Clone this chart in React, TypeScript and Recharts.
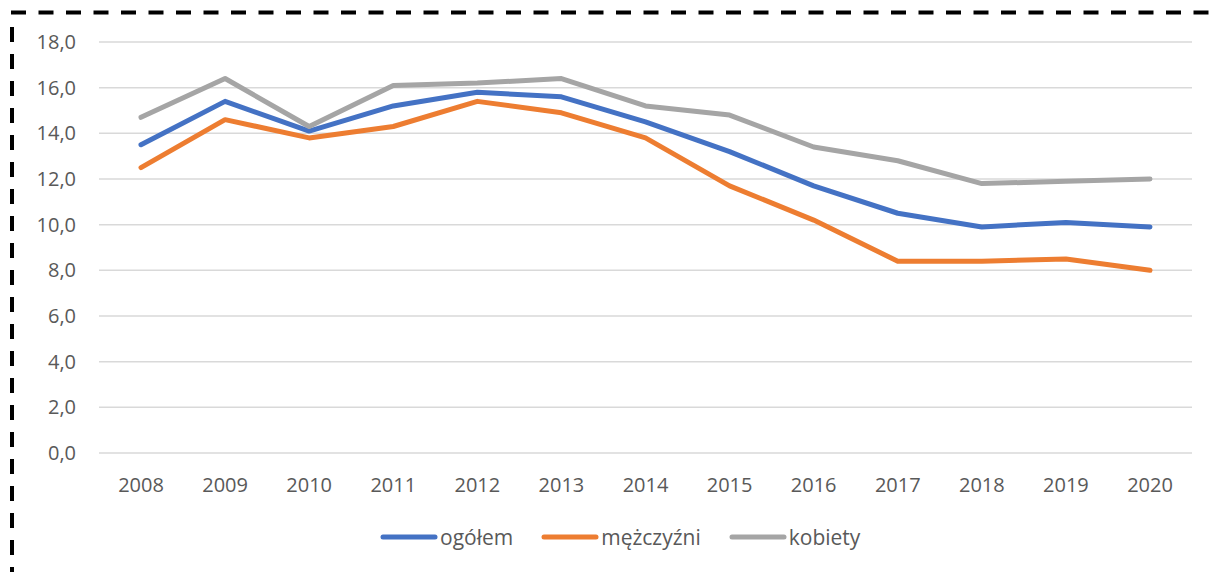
import React from "react";
import { LineChart, Line, XAxis, YAxis, CartesianGrid, Legend } from "recharts";

const years = ["2008", "2009", "2010", "2011", "2012", "2013", "2014", "2015", "2016", "2017", "2018", "2019", "2020"];
const ogolem = [13.5, 15.4, 14.1, 15.2, 15.8, 15.6, 14.5, 13.2, 11.7, 10.5, 9.9, 10.1, 9.9];
const mezczyzni = [12.5, 14.6, 13.8, 14.3, 15.4, 14.9, 13.8, 11.7, 10.2, 8.4, 8.4, 8.5, 8.0];
const kobiety = [14.7, 16.4, 14.3, 16.1, 16.2, 16.4, 15.2, 14.8, 13.4, 12.8, 11.8, 11.9, 12.0];
const yTicks = [0, 2, 4, 6, 8, 10, 12, 14, 16, 18];

const seriesNames = ["ogółem", "mężczyźni", "kobiety"];
const seriesColors = ["#4472C4", "#ED7D31", "#A5A5A5"];

const data = years.map((y, i) => ({
  year: y,
  s0: ogolem[i],
  s1: mezczyzni[i],
  s2: kobiety[i],
}));

const FONT = "'Open Sans', 'Noto Sans', sans-serif";
const TEXT = "#595959";

const renderLegend = () => {
  return (
    <div style={{ display: "flex", alignItems: "center", fontFamily: FONT, fontSize: 21, color: TEXT }}>
      {seriesNames.map((name, i) => (
        <div key={i} style={{ display: "flex", alignItems: "center", marginRight: i < seriesNames.length - 1 ? 28 : 0 }}>
          <svg width={58} height={10} style={{ display: "block" }}>
            <line x1={3} y1={5} x2={55} y2={5} stroke={seriesColors[i]} strokeWidth={5} strokeLinecap="round" />
          </svg>
          <span style={{ marginLeft: 2, lineHeight: "24px" }}>{name}</span>
        </div>
      ))}
    </div>
  );
};

export default function App() {
  return (
    <div style={{ position: "absolute", left: 0, top: 0, width: 1215, height: 572, background: "#fff" }}>
      <LineChart
        width={1215}
        height={572}
        data={data}
        margin={{ top: 42, right: 23, bottom: 79, left: 8 }}
      >
        <CartesianGrid horizontal={true} vertical={false} stroke="#D9D9D9" strokeWidth={1.5} />
        <XAxis
          dataKey="year"
          axisLine={false}
          tickLine={false}
          tickSize={6}
          tickMargin={19}
          height={40}
          padding={{ left: 42, right: 42 }}
          interval={0}
          tick={{ fill: TEXT, fontSize: 20, fontFamily: FONT }}
        />
        <YAxis
          domain={[0, 18]}
          ticks={yTicks}
          width={91}
          axisLine={false}
          tickLine={false}
          tickSize={6}
          tickMargin={17}
          interval={0}
          tickFormatter={(v: number) => v.toFixed(1).replace(".", ",")}
          tick={{ fill: TEXT, fontSize: 20, fontFamily: FONT }}
        />
        <Legend
          verticalAlign="middle"
          align="center"
          layout="horizontal"
          content={renderLegend}
          wrapperStyle={{ top: 525, left: 380, width: "auto", height: "auto" }}
        />
        <Line type="linear" dataKey="s0" name={seriesNames[0]} stroke={seriesColors[0]} strokeWidth={5} dot={false} isAnimationActive={false} strokeLinejoin="round" strokeLinecap="round" />
        <Line type="linear" dataKey="s1" name={seriesNames[1]} stroke={seriesColors[1]} strokeWidth={5} dot={false} isAnimationActive={false} strokeLinejoin="round" strokeLinecap="round" />
        <Line type="linear" dataKey="s2" name={seriesNames[2]} stroke={seriesColors[2]} strokeWidth={5} dot={false} isAnimationActive={false} strokeLinejoin="round" strokeLinecap="round" />
      </LineChart>
      <svg width={1215} height={572} style={{ position: "absolute", left: 0, top: 0, pointerEvents: "none" }}>
        <line x1={11} y1={12.5} x2={1215} y2={12.5} stroke="#000" strokeWidth={4} strokeDasharray="15 12.5" />
        <line x1={12} y1={27} x2={12} y2={572} stroke="#000" strokeWidth={4} strokeDasharray="15 12" />
      </svg>
    </div>
  );
}
